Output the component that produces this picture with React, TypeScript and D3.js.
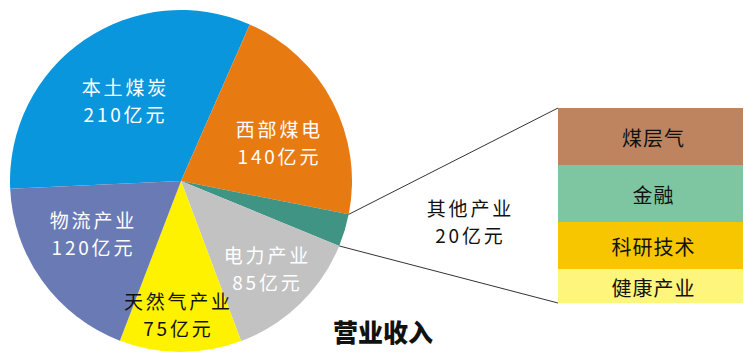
import React from "react";
import * as d3 from "d3";

const categories = ["本土煤炭", "西部煤电", "其他产业", "电力产业", "天然气产业", "物流产业"];
const values = [210, 140, 20, 85, 75, 120];
const valueLabels = ["210亿元", "140亿元", "20亿元", "85亿元", "75亿元", "120亿元"];
const sliceColors = ["#0A96DC", "#E87A12", "#3F9484", "#C2C2C2", "#FFF200", "#6A7AB5"];
const labelColors = ["#fff", "#fff", "#111", "#fff", "#111", "#fff"];

const subCategories = ["煤层气", "金融", "科研技术", "健康产业"];
const subValues = [57, 57, 47, 34];
const subColors = ["#BE8460", "#7DC6A1", "#F7C600", "#FEF57C"];

const title = "营业收入";

const W = 750;
const H = 357;
const cx = 181;
const cy = 181;
const R = 171;
const startDeg = -92.6;

const labelPos: [number, number][] = [
  [124, 100],
  [278, 142],
  [469, 221],
  [266, 268],
  [177, 314],
  [92, 233],
];

export default function App() {
  const pie = d3
    .pie<number>()
    .sort(null)
    .value((d) => d)
    .startAngle((startDeg * Math.PI) / 180)
    .endAngle((startDeg * Math.PI) / 180 + 2 * Math.PI);
  const arcs = pie(values);
  const arcGen = d3.arc<d3.PieArcDatum<number>>().innerRadius(0).outerRadius(R);

  const boxX = 558;
  const boxW = 185;
  const boxTop = 108;
  const boxBottom = 303;
  const total = d3.sum(subValues);
  const y = d3.scaleLinear().domain([0, total]).range([boxTop, boxBottom]);
  const cum = d3.cumsum(subValues);

  const other = arcs[2];
  const p1: [number, number] = [cx + R * Math.sin(other.startAngle), cy - R * Math.cos(other.startAngle)];
  const p2: [number, number] = [cx + R * Math.sin(other.endAngle), cy - R * Math.cos(other.endAngle)];

  const font = "'Noto Sans CJK SC', 'Noto Sans', sans-serif";
  const ls = 2.8;

  return (
    <div style={{ position: "fixed", left: 0, top: 0 }}>
      <svg width={W} height={H} style={{ display: "block", background: "#fff" }}>
        <g transform={`translate(${cx},${cy})`}>
          {arcs.map((a, i) => (
            <path key={i} d={arcGen(a) || ""} fill={sliceColors[i]} />
          ))}
        </g>
        <line x1={p1[0]} y1={p1[1]} x2={boxX} y2={boxTop} stroke="#333" strokeWidth={1} />
        <line x1={p2[0]} y1={p2[1]} x2={boxX} y2={boxBottom} stroke="#333" strokeWidth={1} />
        {subValues.map((v, i) => {
          const y0 = y(i === 0 ? 0 : cum[i - 1]);
          const y1 = y(cum[i]);
          return (
            <g key={i}>
              <rect x={boxX} y={y0} width={boxW} height={y1 - y0} fill={subColors[i]} />
              <text
                x={boxX + boxW / 2 + 3}
                y={(y0 + y1) / 2 + 1}
                textAnchor="middle"
                dominantBaseline="central"
                fontFamily={font}
                fontSize={20}
                letterSpacing={1}
                fill="#111"
              >
                {subCategories[i]}
              </text>
            </g>
          );
        })}
        {categories.map((c, i) => (
          <g key={i} fontFamily={font} fontSize={19} letterSpacing={ls} fill={labelColors[i]} textAnchor="middle">
            <text x={labelPos[i][0] + ls / 2} y={labelPos[i][1] - 13.5} dominantBaseline="central">
              {c}
            </text>
            <text x={labelPos[i][0] + ls / 2} y={labelPos[i][1] + 13.5} dominantBaseline="central">
              {valueLabels[i]}
            </text>
          </g>
        ))}
        <text
          x={383}
          y={331}
          textAnchor="middle"
          dominantBaseline="central"
          fontFamily="'Noto Sans CJK SC', serif"
          fontWeight={900}
          fontSize={25}
          fill="#111"
        >
          {title}
        </text>
      </svg>
    </div>
  );
}
